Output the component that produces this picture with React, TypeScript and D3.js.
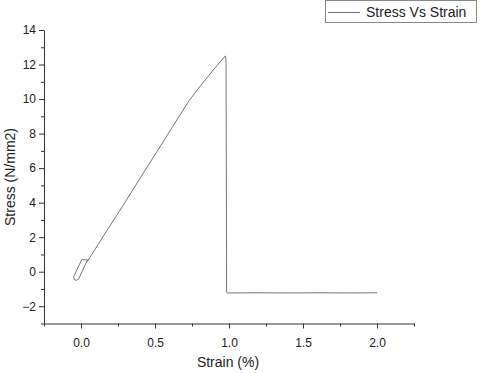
import React, { useRef, useEffect } from 'react';
import * as d3 from 'd3';

const strain = [0.034, 0.045, 0.005, -0.05, -0.046, -0.032, -0.016, 0.034, 0.06, 0.16, 0.28, 0.4, 0.52, 0.63, 0.73, 0.81, 0.9, 0.975, 0.98, 0.984, 0.99, 1.2, 1.4, 1.6, 1.8, 2.0];
const stress = [0.5, 0.68, 0.7, -0.3, -0.45, -0.5, -0.42, 0.5, 0.82, 2.18, 3.78, 5.42, 7.05, 8.55, 9.9, 10.8, 11.75, 12.5, 12.3, -1.2, -1.23, -1.22, -1.23, -1.22, -1.23, -1.22];
const xTicks = [0, 0.5, 1.0, 1.5, 2.0];
const xMinor = [-0.25, 0.25, 0.75, 1.25, 1.75, 2.25];
const yTicks = [-2, 0, 2, 4, 6, 8, 10, 12, 14];
const yMinor = [-3, -1, 1, 3, 5, 7, 9, 11, 13];

const W = 481;
const H = 373;
const FONT = '"Liberation Sans", Arial, sans-serif';

const App: React.FC = () => {
  const ref = useRef<HTMLDivElement>(null);

  useEffect(() => {
    d3.select(ref.current).select('svg').remove();

    const svg = d3.select(ref.current)
      .append('svg')
      .attr('width', W)
      .attr('height', H)
      .style('position', 'absolute')
      .style('left', '0px')
      .style('top', '0px')
      .style('background', '#fff');

    const x = d3.scaleLinear().domain([-0.25, 2.25]).range([44, 414]);
    const y = d3.scaleLinear().domain([-3, 14]).range([323.5, 30]);

    const xAxis = svg.append('g')
      .attr('transform', `translate(0,${y(-3)})`)
      .call(d3.axisBottom(x).tickValues(xTicks).tickSize(5).tickSizeOuter(0).tickFormat(d3.format('.1f')));
    svg.append('g')
      .attr('transform', `translate(0,${y(-3)})`)
      .call(d3.axisBottom(x).tickValues(xMinor).tickSize(3).tickSizeOuter(0).tickFormat(() => ''))
      .select('.domain').remove();

    const yAxis = svg.append('g')
      .attr('transform', `translate(${x(-0.25)},0)`)
      .call(d3.axisLeft(y).tickValues(yTicks).tickSize(5).tickSizeOuter(0));
    svg.append('g')
      .attr('transform', `translate(${x(-0.25)},0)`)
      .call(d3.axisLeft(y).tickValues(yMinor).tickSize(3).tickSizeOuter(0).tickFormat(() => ''))
      .select('.domain').remove();

    [xAxis, yAxis].forEach(g => {
      g.selectAll('text').style('font-family', FONT).style('font-size', '12px').attr('fill', '#222');
    });
    xAxis.selectAll('text').attr('dy', '1.25em');
    svg.selectAll('.domain, .tick line').attr('stroke', '#333');

    // stress-strain curve, including the small loop near the origin
    const pts = strain.map((s, i) => [s, stress[i]] as [number, number]);
    svg.append('path')
      .datum(pts)
      .attr('d', d3.line().x(d => x(d[0])).y(d => y(d[1])))
      .attr('fill', 'none')
      .attr('stroke', '#777')
      .attr('stroke-width', 1)
      .attr('stroke-linejoin', 'round');

    svg.append('text')
      .attr('x', 228)
      .attr('y', 367)
      .attr('text-anchor', 'middle')
      .style('font-family', FONT)
      .style('font-size', '14px')
      .attr('fill', '#222')
      .text('Strain (%)');

    svg.append('text')
      .attr('transform', 'translate(15,177) rotate(-90)')
      .attr('text-anchor', 'middle')
      .style('font-family', FONT)
      .style('font-size', '14px')
      .attr('fill', '#222')
      .text('Stress (N/mm2)');

    const legend = svg.append('g');
    legend.append('rect')
      .attr('x', 325.5).attr('y', 0.5).attr('width', 151).attr('height', 22)
      .attr('fill', '#fff').attr('stroke', '#888');
    legend.append('line')
      .attr('x1', 328).attr('x2', 360).attr('y1', 12.5).attr('y2', 12.5)
      .attr('stroke', '#777');
    legend.append('text')
      .attr('x', 366).attr('y', 17)
      .style('font-family', FONT)
      .style('font-size', '14px')
      .attr('fill', '#222')
      .text('Stress Vs Strain');
  }, []);

  return <div ref={ref} />;
};

export default App;
